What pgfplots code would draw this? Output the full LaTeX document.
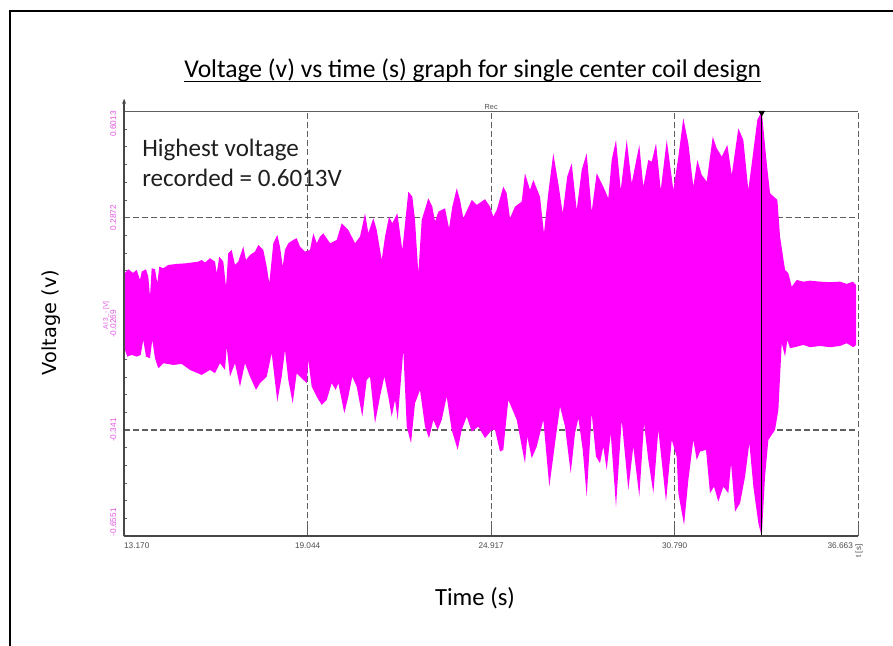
\documentclass[border=0pt]{standalone}
\usepackage{pgfplots}
\pgfplotsset{compat=1.18}
\usepackage{pgfplotstable}
\usepgfplotslibrary{fillbetween}
\usetikzlibrary{arrows.meta}
\usepackage{fontspec}
\setmainfont{Carlito}
\newfontfamily\labfont{DejaVu Sans}
\newfontfamily\tickfont{Liberation Sans}
\definecolor{signal}{RGB}{255,0,255}
\definecolor{axlab}{RGB}{225,85,225}
\definecolor{gridc}{RGB}{95,95,95}

% upper envelope of the recorded signal (time in s, voltage in V)
\pgfplotstableread{
t v
13.199 0.1236
13.304 0.1345
13.455 0.1236
13.573 0.1325
13.679 0.1029
13.733 0.1275
13.871 0.1345
13.944 0.1127
13.999 0.0536
14.053 0.1375
14.159 0.1345
14.233 0.0932
14.297 0.1422
14.425 0.1375
14.585 0.1473
14.853 0.1502
15.173 0.1523
15.544 0.1570
15.653 0.1620
15.759 0.1541
15.919 0.1671
16.079 0.1570
16.133 0.1227
16.217 0.1718
16.345 0.1570
16.431 0.0831
16.504 0.1818
16.613 0.1916
16.719 0.1473
16.824 0.1570
16.984 0.2013
17.071 0.1620
17.199 0.1768
17.359 0.1866
17.465 0.2064
17.625 0.1916
17.734 0.1422
17.817 0.0932
17.945 0.2114
18.073 0.2359
18.159 0.2013
18.246 0.1422
18.319 0.1916
18.425 0.2114
18.585 0.2212
18.694 0.2262
18.799 0.2013
18.959 0.1866
19.119 0.1916
19.225 0.2410
19.334 0.2114
19.439 0.2309
19.545 0.2410
19.760 0.2114
19.974 0.2212
20.134 0.2705
20.346 0.2507
20.560 0.2114
20.720 0.2309
20.880 0.3001
20.986 0.2410
21.146 0.2853
21.255 0.2507
21.414 0.1620
21.520 0.2309
21.648 0.2900
21.754 0.2705
21.914 0.3001
22.074 0.1916
22.266 0.3639
22.394 0.3492
22.480 0.2803
22.586 0.1227
22.695 0.2803
22.906 0.3444
23.034 0.3196
23.120 0.2753
23.226 0.3048
23.441 0.3149
23.569 0.2557
23.674 0.3196
23.815 0.3740
23.921 0.3394
24.026 0.2853
24.295 0.3394
24.455 0.3246
24.721 0.3415
24.881 0.3196
24.986 0.2900
25.095 0.3098
25.305 0.3787
25.414 0.3592
25.519 0.2853
25.679 0.3196
25.893 0.3344
25.999 0.4183
26.159 0.3690
26.265 0.3985
26.479 0.3492
26.607 0.2410
26.744 0.3592
26.905 0.4774
27.065 0.3888
27.206 0.3001
27.352 0.4083
27.494 0.4479
27.654 0.3098
27.814 0.4281
27.974 0.4774
28.134 0.3048
28.294 0.4183
28.505 0.3787
28.665 0.3444
28.774 0.4576
28.912 0.5168
29.063 0.3690
29.255 0.5168
29.415 0.3888
29.658 0.5020
29.786 0.3787
29.946 0.4576
30.055 0.4526
30.193 0.5070
30.344 0.3690
30.536 0.5168
30.747 0.3690
30.907 0.4674
31.067 0.5809
31.227 0.5070
31.387 0.3787
31.515 0.4576
31.656 0.4133
31.816 0.3935
32.008 0.5265
32.136 0.4922
32.296 0.4674
32.475 0.5020
32.616 0.4133
32.827 0.5513
32.987 0.5168
33.147 0.3690
33.435 0.5759
33.576 0.6013
33.736 0.4479
33.842 0.3592
34.076 0.3394
34.162 0.2309
34.322 0.1325
34.428 0.1227
34.537 0.0831
34.697 0.1029
34.908 0.0979
35.123 0.1008
35.443 0.0979
35.763 0.0961
36.083 0.0979
36.297 0.0911
36.489 0.0979
36.595 0.0881
}\envup

% lower envelope
\pgfplotstableread{
t v
13.199 -0.1040
13.272 -0.1238
13.413 -0.1188
13.573 -0.1238
13.701 -0.1188
13.784 -0.0744
13.871 -0.1238
13.999 -0.1285
14.072 -0.0744
14.159 -0.1285
14.264 -0.1581
14.425 -0.1433
14.745 -0.1483
15.013 -0.1454
15.279 -0.1631
15.653 -0.1779
15.919 -0.1631
16.079 -0.1729
16.239 -0.1433
16.399 -0.1631
16.454 -0.0943
16.559 -0.1829
16.719 -0.1433
16.879 -0.2125
17.039 -0.1433
17.199 -0.1829
17.391 -0.2222
17.519 -0.2024
17.734 -0.1829
17.894 -0.1138
18.073 -0.2568
18.214 -0.1829
18.319 -0.1040
18.425 -0.1927
18.566 -0.2616
18.694 -0.1729
18.854 -0.1877
19.014 -0.2024
19.065 -0.1336
19.173 -0.2125
19.334 -0.2421
19.494 -0.2666
19.654 -0.2518
19.814 -0.2024
19.942 -0.2222
20.025 -0.2024
20.217 -0.2911
20.346 -0.2421
20.473 -0.1829
20.614 -0.2125
20.794 -0.3012
20.934 -0.1927
21.040 -0.1829
21.200 -0.3207
21.360 -0.2421
21.498 -0.1829
21.626 -0.2421
21.734 -0.3012
21.840 -0.2518
21.927 -0.3109
22.106 -0.1040
22.215 -0.3307
22.352 -0.3798
22.480 -0.2616
22.640 -0.2222
22.800 -0.3307
22.928 -0.3650
23.066 -0.3109
23.206 -0.3405
23.334 -0.3109
23.494 -0.2421
23.654 -0.3405
23.846 -0.3996
23.974 -0.3405
24.134 -0.3012
24.295 -0.3455
24.506 -0.3307
24.721 -0.3650
24.935 -0.3405
25.040 -0.3405
25.200 -0.4046
25.305 -0.3996
25.466 -0.2518
25.735 -0.3109
25.999 -0.4389
26.074 -0.3603
26.215 -0.4241
26.375 -0.3898
26.586 -0.3109
26.778 -0.5081
26.961 -0.3798
27.121 -0.2716
27.281 -0.3307
27.463 -0.4685
27.601 -0.3502
27.707 -0.3059
27.848 -0.3996
27.974 -0.5377
28.134 -0.2911
28.272 -0.4194
28.400 -0.4389
28.505 -0.3898
28.615 -0.4587
28.743 -0.3502
28.912 -0.5672
29.095 -0.3109
29.306 -0.5178
29.466 -0.3898
29.658 -0.5377
29.809 -0.3207
29.946 -0.4292
30.107 -0.5276
30.267 -0.3405
30.513 -0.5524
30.695 -0.3700
30.855 -0.4194
30.907 -0.5276
31.090 -0.6213
31.227 -0.4883
31.387 -0.3700
31.495 -0.4292
31.601 -0.4046
31.793 -0.3996
31.921 -0.5276
32.049 -0.5081
32.187 -0.5524
32.347 -0.5081
32.507 -0.5276
32.594 -0.4389
32.722 -0.5820
32.882 -0.5572
33.042 -0.4785
33.180 -0.3798
33.308 -0.5081
33.468 -0.6163
33.576 -0.6551
33.681 -0.4785
33.788 -0.3700
34.002 -0.3405
34.108 -0.2814
34.216 -0.0842
34.322 -0.1238
34.396 -0.0744
34.482 -0.0990
34.697 -0.0943
34.908 -0.0892
35.123 -0.0960
35.443 -0.0922
35.763 -0.0960
36.083 -0.0922
36.297 -0.0842
36.508 -0.0960
36.595 -0.0892
}\envlo

\begin{document}
\begin{tikzpicture}
\begin{axis}[
  width=550.575pt, height=318.675pt, scale only axis,
  xmin=13.170, xmax=36.663, ymin=-0.6551, ymax=0.6013,
  clip=false,
  axis line style={draw=none},
  xtick={13.170,19.044,24.917,30.790,36.663},
  xticklabels={\rlap{13.170},19.044,24.917,30.790,\llap{36.663\hspace{4pt}}},
  ytick={-0.6551,-0.341,-0.0269,0.2872,0.6013},
  yticklabels={\rlap{-0.6551},-0.341,-0.0269,0.2872,\llap{0.6013}},
  minor x tick num=9, minor y tick num=5,
  tick align=inside, tick pos=left,
  major tick length=9pt, minor tick length=2pt,
  every tick/.style={gridc, line width=0.6pt},
  major y tick style={draw=none},
  xmajorgrids, ymajorgrids,
  major grid style={gridc, line width=0.9pt, dash pattern=on 4.5pt off 2.3pt},
  xticklabel style={font=\tickfont\fontsize{6.2}{7}\selectfont, text=black!70, anchor=north, yshift=-1pt},
  yticklabel style={xshift=-2.3pt, rotate=90, anchor=south, font=\tickfont\fontsize{6.2}{7}\selectfont, text=axlab},
  xlabel={t [s]},
  xlabel style={at={(axis description cs:1.0011,-0.0087)}, anchor=east, rotate=90, font=\tickfont\fontsize{6}{7}\selectfont, text=black!70},
  ylabel={AI 3\_- [V]},
  ylabel style={at={(axis description cs:-0.0245,0.52)}, anchor=center, font=\tickfont\fontsize{5}{6}\selectfont, text=axlab},
]
\addplot[draw=none, name path=up] table[x=t, y=v] {\envup};
\addplot[draw=none, name path=lo] table[x=t, y=v] {\envlo};
\addplot[fill=signal, draw=none] fill between[of=up and lo];

% cursor at the maximum
\addplot[black, line width=0.6pt] coordinates {(33.576,-0.6551) (33.576,0.6013)};
\addplot[only marks, mark=triangle*, mark size=2.4pt, mark options={rotate=180, fill=black, draw=black}] coordinates {(33.576,0.597)};

% frame of the recorder window
\draw[gridc, line width=1.1pt] (rel axis cs:0,1) -- (rel axis cs:1,1);
\draw[black!72, line width=1.5pt] (rel axis cs:0,0) -- (rel axis cs:1,0);
\draw[black!72, line width=1pt, -{Stealth[length=4pt,width=3pt]}] (rel axis cs:0,0) -- (rel axis cs:0,1.03);
\node[anchor=south, inner sep=1pt, font=\tickfont\fontsize{5.5}{6}\selectfont, text=black!70] at (rel axis cs:0.5,1) {Rec};
\coordinate (O) at (rel axis cs:0,0);
\end{axis}

% page layout in pixel units, lower-left page corner at (0,0)
\begin{scope}[x=0.75pt, y=0.75pt, shift={(O)}, shift={(-124.1,-109.7)}]
\draw[line width=1.5pt] (10.5,0) -- (10.5,634.5) -- (893,634.5);

\node[anchor=base, inner sep=0pt, font=\fontsize{19.2}{23}\selectfont] (T) at (472.7,568.5) {Voltage (v) vs time (s) graph for single center coil design};
\draw[line width=1.1pt] ([yshift=-3pt]T.base west) -- ([yshift=-3pt]T.base east);

\node[anchor=base west, inner sep=0pt, font=\fontsize{18.8}{22}\selectfont, text=black!88] at (142,489) {Highest voltage};
\node[anchor=base west, inner sep=0pt, font=\fontsize{18.8}{22}\selectfont, text=black!88] at (142,459.3) {recorded = 0.6013V};

\node[rotate=90, anchor=base, inner sep=0pt, font=\labfont\fontsize{14.5}{17}\selectfont] at (57,323.5) {Voltage (v)};
\node[anchor=base, inner sep=0pt, font=\fontsize{18.5}{22}\selectfont] at (475,40.3) {Time (s)};

\pgfresetboundingbox
\useasboundingbox (0,0) rectangle (893,646);
\end{scope}
\end{tikzpicture}
\end{document}
